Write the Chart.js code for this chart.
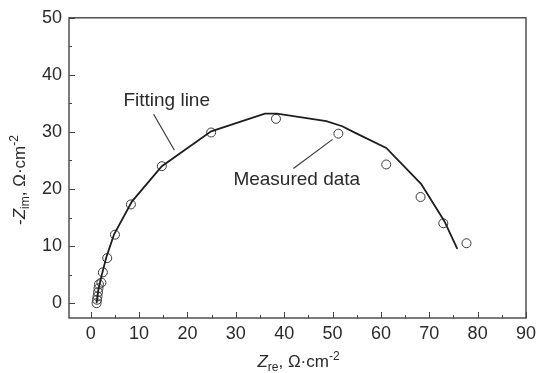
<!DOCTYPE html>
<html>
<head>
<meta charset="utf-8">
<script src="https://cdn.jsdelivr.net/npm/chart.js@4.4.0/dist/chart.umd.min.js"></script>
<style>
  html, body { margin: 0; padding: 0; background: #fff; }
  #wrap { width: 541px; height: 373px; }
</style>
</head>
<body>
<div id="wrap"><canvas id="nyquist"></canvas></div>
<script>
// measured impedance (circles)
const measuredRe = [1.2, 1.3, 1.4, 1.5, 1.6, 1.7, 2.2, 2.5, 3.4, 5.0, 8.3, 14.7, 24.9, 38.3, 51.2, 61.1, 68.2, 72.9, 77.7];
const measuredIm = [0.0, 0.6, 1.2, 1.9, 2.6, 3.3, 3.6, 5.4, 7.9, 12.0, 17.3, 24.0, 29.9, 32.3, 29.7, 24.3, 18.6, 14.0, 10.5];

// fitted curve (solid line)
const fitRe = [1.2, 1.6, 2.3, 3.2, 4.8, 8.5, 14.7, 24.9, 36.0, 38.5, 48.7, 52.0, 54.8, 61.1, 68.3, 73.1, 75.8];
const fitIm = [0.0, 2.5, 5.0, 8.0, 12.0, 17.8, 24.0, 30.1, 33.2, 33.2, 31.9, 31.0, 29.8, 27.2, 20.9, 14.4, 9.5];

// annotation leader lines
const fitPointerRe = [13.0, 17.3];
const fitPointerIm = [33.1, 26.8];
const measPointerRe = [41.9, 50.0];
const measPointerIm = [23.6, 28.7];

const xTicks = [0, 10, 20, 30, 40, 50, 60, 70, 80, 90];
const yTicks = [0, 10, 20, 30, 40, 50];

const toPts = (xs, ys) => xs.map((x, i) => ({ x: x, y: ys[i] }));

const INK = '#2a2a2a';
const FONT = '"Liberation Sans", Arial, sans-serif';

// inward ticks, frame, annotation text and axis titles
const decor = {
  id: 'decor',
  afterDraw(chart) {
    const ctx = chart.ctx;
    const a = chart.chartArea;
    const xs = chart.scales.x, ys = chart.scales.y;
    ctx.save();
    ctx.strokeStyle = '#444';
    ctx.lineWidth = 1.4;
    ctx.strokeRect(a.left, a.top, a.right - a.left, a.bottom - a.top);

    ctx.lineWidth = 1;
    ctx.beginPath();
    for (let v = 0; v <= 90; v += 5) {
      const px = Math.round(xs.getPixelForValue(v)) + 0.5;
      const len = v % 10 === 0 ? 6 : 3;
      ctx.moveTo(px, a.bottom);
      ctx.lineTo(px, a.bottom - len);
    }
    for (let v = 0; v <= 50; v += 5) {
      const py = Math.round(ys.getPixelForValue(v)) + 0.5;
      const len = v % 10 === 0 ? 6 : 3;
      ctx.moveTo(a.left, py);
      ctx.lineTo(a.left + len, py);
    }
    ctx.stroke();

    // labels next to the leader lines
    ctx.fillStyle = INK;
    ctx.font = '19px ' + FONT;
    ctx.textAlign = 'center';
    ctx.textBaseline = 'middle';
    ctx.fillText('Fitting line', xs.getPixelForValue(15.7), ys.getPixelForValue(35.5));
    ctx.fillText('Measured data', xs.getPixelForValue(42.6), ys.getPixelForValue(21.7));

    // axis titles with sub/superscripts
    const xTitle = [['Z', 'italic 17px', 0], ['re', '12px', 4], [', Ω·cm', '17px', 0], ['-2', '12px', -7]];
    const yTitle = [['-', '17px', 0], ['Z', 'italic 17px', 0], ['im', '12px', 4], [', Ω·cm', '17px', 0], ['-2', '12px', -7]];
    const drawRich = (parts, cx, cy, rot) => {
      ctx.save();
      ctx.translate(cx, cy);
      ctx.rotate(rot);
      ctx.textAlign = 'left';
      ctx.textBaseline = 'alphabetic';
      let w = 0;
      parts.forEach(p => { ctx.font = p[1] + ' ' + FONT; w += ctx.measureText(p[0]).width; });
      let x = -w / 2;
      parts.forEach(p => {
        ctx.font = p[1] + ' ' + FONT;
        ctx.fillText(p[0], x, 6 + p[2]);
        x += ctx.measureText(p[0]).width;
      });
      ctx.restore();
    };
    drawRich(xTitle, (a.left + a.right) / 2 + 1, 361, 0);
    drawRich(yTitle, 19, 180, -Math.PI / 2);
    ctx.restore();
  }
};

new Chart(document.getElementById('nyquist'), {
  type: 'scatter',
  data: {
    datasets: [
      {
        label: 'Fitting line',
        data: toPts(fitRe, fitIm),
        showLine: true,
        borderColor: '#1e1e1e',
        borderWidth: 1.8,
        pointRadius: 0,
        tension: 0
      },
      {
        label: 'Measured data',
        data: toPts(measuredRe, measuredIm),
        showLine: false,
        pointStyle: 'circle',
        pointRadius: 4.5,
        borderColor: '#3a3a3a',
        borderWidth: 1,
        backgroundColor: 'rgba(255,255,255,0)'
      },
      {
        data: toPts(fitPointerRe, fitPointerIm),
        showLine: true,
        borderColor: '#3a3a3a',
        borderWidth: 1.2,
        pointRadius: 0
      },
      {
        data: toPts(measPointerRe, measPointerIm),
        showLine: true,
        borderColor: '#3a3a3a',
        borderWidth: 1.2,
        pointRadius: 0
      }
    ]
  },
  options: {
    responsive: true,
    maintainAspectRatio: false,
    animation: false,
    layout: { padding: { top: 16, right: 10, left: 0, bottom: 0 } },
    plugins: { legend: { display: false }, tooltip: { enabled: false } },
    scales: {
      x: {
        type: 'linear',
        min: -4.5,
        max: 90,
        afterBuildTicks: s => { s.ticks = xTicks.map(v => ({ value: v })); },
        afterFit: s => { s.height = 55; },
        grid: { display: false, drawTicks: false },
        border: { display: false },
        ticks: { color: INK, font: { family: FONT, size: 18 }, padding: 5, maxRotation: 0 }
      },
      y: {
        type: 'linear',
        min: -2.6,
        max: 50,
        afterBuildTicks: s => { s.ticks = yTicks.map(v => ({ value: v })); },
        afterFit: s => { s.width = 69; },
        grid: { display: false, drawTicks: false },
        border: { display: false },
        ticks: { color: INK, font: { family: FONT, size: 18 }, padding: 7 }
      }
    }
  },
  plugins: [decor]
});
</script>
</body>
</html>
